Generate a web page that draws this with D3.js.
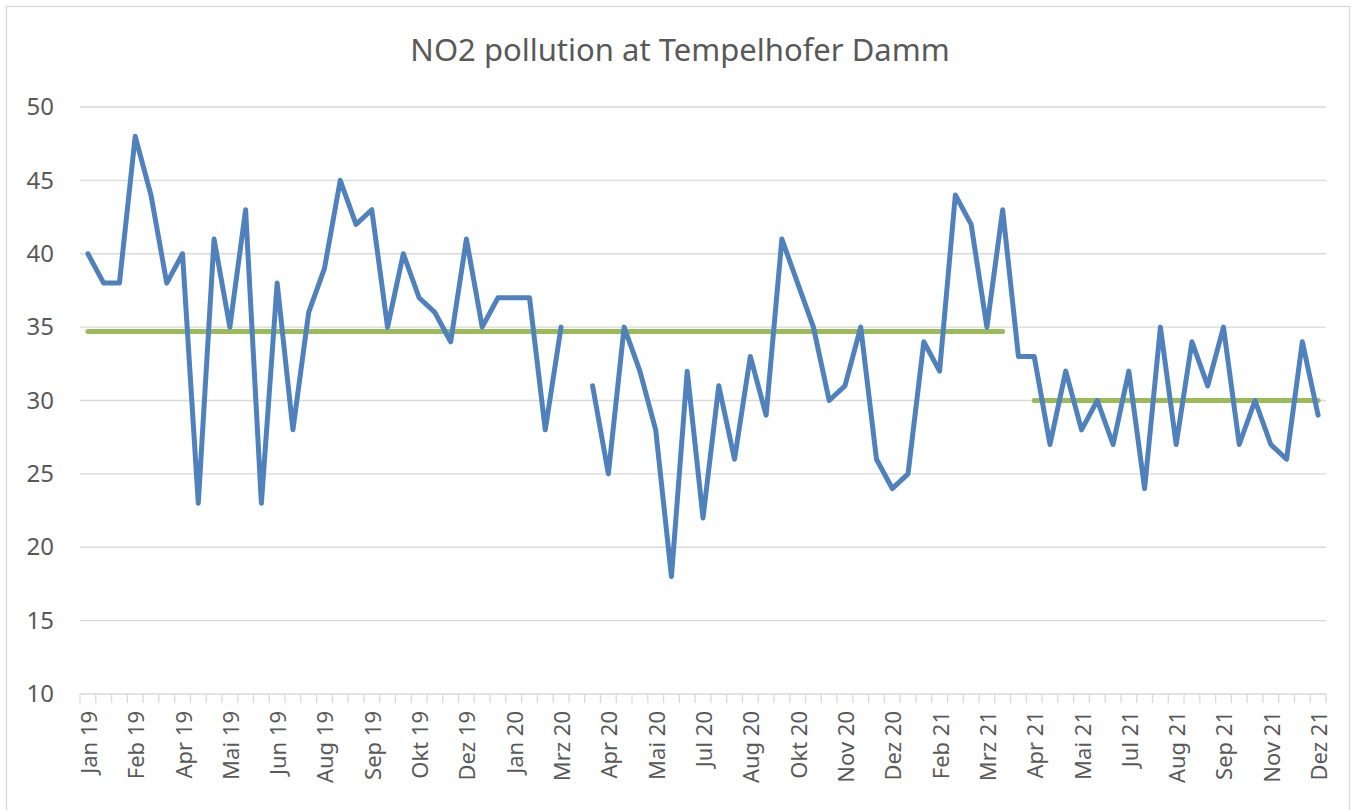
<!DOCTYPE html>
<html>
<head>
<meta charset="utf-8">
<script src="https://cdn.jsdelivr.net/npm/d3@7"></script>
<style>
  html, body { margin: 0; padding: 0; background: #fff; }
  svg { display: block; font-family: "Noto Sans", "Open Sans", sans-serif; }
</style>
</head>
<body>
<svg id="chart" width="1355" height="810"></svg>
<script>
const title = "NO2 pollution at Tempelhofer Damm";

// 79 measurement points, Jan 19 ... Dez 21 (null = missing value)
const no2Values = [
  40, 38, 38, 48, 44, 38, 40, 23, 41, 35,
  43, 23, 38, 28, 36, 39, 45, 42, 43, 35,
  40, 37, 36, 34, 41, 35, 37, 37, 37, 28,
  35, null, 31, 25, 35, 32, 28, 18, 32, 22,
  31, 26, 33, 29, 41, 38, 35, 30, 31, 35,
  26, 24, 25, 34, 32, 44, 42, 35, 43, 33,
  33, 27, 32, 28, 30, 27, 32, 24, 35, 27,
  34, 31, 35, 27, 30, 27, 26, 34, 29
];

// tick labels shown on every 3rd category
const tickLabels = [
  "Jan 19", "Feb 19", "Apr 19", "Mai 19", "Jun 19", "Aug 19", "Sep 19", "Okt 19", "Dez 19",
  "Jan 20", "Mrz 20", "Apr 20", "Mai 20", "Jul 20", "Aug 20", "Okt 20", "Nov 20", "Dez 20",
  "Feb 21", "Mrz 21", "Apr 21", "Mai 21", "Jul 21", "Aug 21", "Sep 21", "Nov 21", "Dez 21"
];
const labelStep = 3;

// average lines: value and first / last category index covered
const averageValues = [34.7, 30];
const averageFrom = [0, 60];
const averageTo = [58, 78];

const yTicks = [10, 15, 20, 25, 30, 35, 40, 45, 50];

const svg = d3.select("#chart");
const textColor = "#595959";
const gridColor = "#D9D9D9";

// outer chart border
svg.append("rect")
  .attr("x", 6.5).attr("y", 6.5)
  .attr("width", 1343).attr("height", 820)
  .attr("fill", "none").attr("stroke", gridColor).attr("stroke-width", 1.3);

const plot = { left: 80, right: 1326, top: 107, bottom: 694 };

const x = d3.scaleBand()
  .domain(d3.range(no2Values.length))
  .range([plot.left, plot.right])
  .padding(0);
const cx = i => x(i) + x.bandwidth() / 2;

const y = d3.scaleLinear().domain([10, 50]).range([plot.bottom, plot.top]);

// title
svg.append("text")
  .attr("x", 680).attr("y", 61)
  .attr("text-anchor", "middle")
  .attr("fill", textColor)
  .style("font-size", "31px")
  .text(title);

// gridlines
svg.append("g").selectAll("line")
  .data(yTicks.filter(t => t !== 10))
  .join("line")
  .attr("x1", plot.left).attr("x2", plot.right)
  .attr("y1", d => y(d)).attr("y2", d => y(d))
  .attr("stroke", gridColor).attr("stroke-width", 1.3);

// y axis labels
const yAxis = d3.axisLeft(y).tickValues(yTicks).tickSize(0).tickPadding(0);
const yg = svg.append("g").attr("transform", `translate(54,0)`).call(yAxis);
yg.select(".domain").remove();
yg.selectAll("text")
  .attr("fill", textColor)
  .style("font-size", "24px")
  .style("font-family", '"Noto Sans", sans-serif');

// x axis line + ticks at category boundaries
const xg = svg.append("g");
xg.append("line")
  .attr("x1", plot.left).attr("x2", plot.right)
  .attr("y1", plot.bottom).attr("y2", plot.bottom)
  .attr("stroke", gridColor).attr("stroke-width", 1.3);
const boundaries = d3.range(no2Values.length + 1).map(i => plot.left + i * x.bandwidth());
xg.selectAll("line.tick")
  .data(boundaries)
  .join("line")
  .attr("class", "tick")
  .attr("x1", d => d).attr("x2", d => d)
  .attr("y1", plot.bottom).attr("y2", plot.bottom + 9)
  .attr("stroke", gridColor).attr("stroke-width", 1.3);

// x labels rotated
xg.selectAll("text")
  .data(tickLabels)
  .join("text")
  .attr("transform", (d, i) => `translate(${cx(i * labelStep)},${plot.bottom + 17}) rotate(-90)`)
  .attr("text-anchor", "end")
  .attr("dominant-baseline", "central")
  .attr("fill", textColor)
  .style("font-size", "22px")
  .text(d => d);

// average lines
const avgData = averageValues.map((v, k) => ({ v, from: averageFrom[k], to: averageTo[k] }));
svg.append("g").selectAll("line")
  .data(avgData)
  .join("line")
  .attr("x1", d => cx(d.from)).attr("x2", d => cx(d.to))
  .attr("y1", d => y(d.v)).attr("y2", d => y(d.v))
  .attr("stroke", "#9BBB59").attr("stroke-width", 5)
  .attr("stroke-linecap", "round");

// NO2 line
const line = d3.line()
  .defined(d => d != null)
  .x((d, i) => cx(i))
  .y(d => y(d));
svg.append("path")
  .datum(no2Values)
  .attr("d", line)
  .attr("fill", "none")
  .attr("stroke", "#4F81BD")
  .attr("stroke-width", 5)
  .attr("stroke-linejoin", "round")
  .attr("stroke-linecap", "round");
</script>
</body>
</html>
